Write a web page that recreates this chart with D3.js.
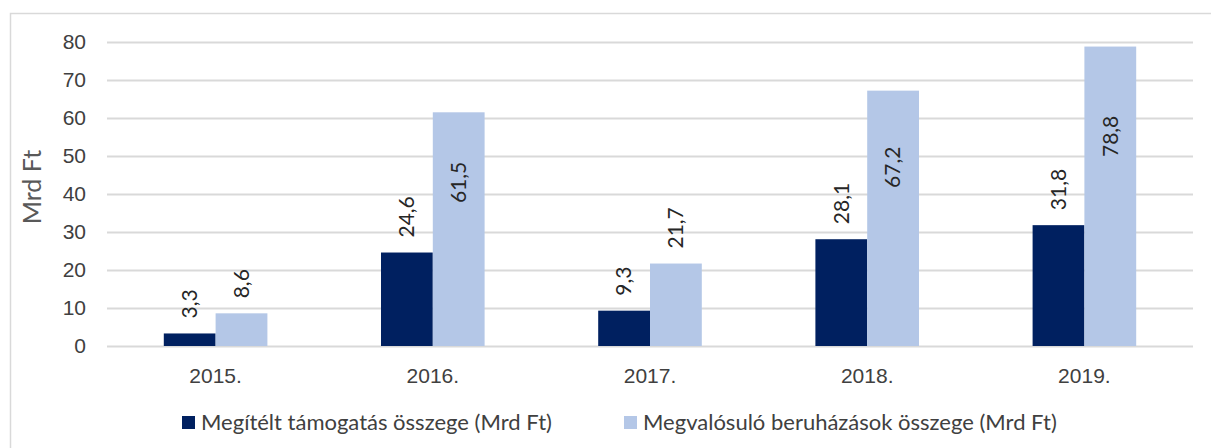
<!DOCTYPE html>
<html>
<head>
<meta charset="utf-8">
<script src="https://cdn.jsdelivr.net/npm/d3@7"></script>
<style>
  html, body { margin: 0; padding: 0; background: #fff; }
  svg { display: block; font-family: Lato, "Open Sans", sans-serif; }
</style>
</head>
<body>
<svg id="chart" width="1211" height="448"></svg>
<script>
// Years and the two annual totals (billion HUF)
const years = ["2015.", "2016.", "2017.", "2018.", "2019."];
const awarded = [3.3, 24.6, 9.3, 28.1, 31.8];
const realised = [8.6, 61.5, 21.7, 67.2, 78.8];
const seriesNames = ["Megítélt támogatás összege (Mrd Ft)", "Megvalósuló beruházások összege (Mrd Ft)"];
const yTicks = [0, 10, 20, 30, 40, 50, 60, 70, 80];
const colors = ["#002060", "#b4c7e7"];

const svg = d3.select("#chart");
const plot = { left: 107, right: 1193, top: 42, bottom: 346 };
const textColor = "#404040";

// outer frame
svg.append("rect")
  .attr("x", 10.5).attr("y", 13.5)
  .attr("width", 1215).attr("height", 450)
  .attr("fill", "none").attr("stroke", "#d9d9d9").attr("stroke-width", 1.5);

const y = d3.scaleLinear().domain([0, 80]).range([plot.bottom, plot.top]);
const x0 = d3.scaleBand().domain(years).range([plot.left, plot.right])
  .paddingInner(0.523).paddingOuter(0.2615);
const x1 = d3.scaleBand().domain([0, 1]).range([0, x0.bandwidth()]);

// horizontal gridlines + tick labels
const yAxis = d3.axisLeft(y).tickValues(yTicks).tickSize(-(plot.right - plot.left)).tickPadding(21)
  .tickFormat(d3.format("d"));
const gy = svg.append("g").attr("transform", `translate(${plot.left},0)`).call(yAxis);
gy.select(".domain").remove();
gy.selectAll(".tick line").attr("stroke", "#d9d9d9").attr("stroke-width", 2);
gy.selectAll(".tick text").attr("fill", textColor).style("font-size", "21px").attr("font-family", null);

// y-axis title
svg.append("text")
  .attr("transform", `translate(41,187) rotate(-90)`)
  .attr("text-anchor", "middle")
  .attr("fill", "#595959").style("font-size", "25px")
  .text("Mrd Ft");

// bars
const rows = years.map((yr, i) => ({ year: yr, values: [awarded[i], realised[i]] }));
const groups = svg.append("g").selectAll("g").data(rows).join("g")
  .attr("transform", d => `translate(${x0(d.year)},0)`);

groups.selectAll("rect").data(d => d.values.map((v, s) => ({ v, s }))).join("rect")
  .attr("x", d => x1(d.s))
  .attr("width", x1.bandwidth())
  .attr("y", d => y(d.v))
  .attr("height", d => y(0) - y(d.v))
  .attr("fill", d => colors[d.s]);

// value labels: tall bars carry the label inside, the rest above the bar
const fmt = v => d3.format(".1f")(v).replace(".", ",");
groups.selectAll("text.val").data(d => d.values.map((v, s) => ({ v, s }))).join("text")
  .attr("class", "val")
  .attr("transform", d => {
    const cx = x1(d.s) + x1.bandwidth() / 2;
    const cy = d.v > 50 ? y(d.v * 0.7) : y(d.v) - 15;
    return `translate(${cx},${cy}) rotate(-90)`;
  })
  .attr("text-anchor", d => d.v > 50 ? "middle" : "start")
  .attr("dy", "0.35em")
  .attr("fill", "#262626").style("font-size", "21px")
  .text(d => fmt(d.v));

// category axis labels
const xAxis = d3.axisBottom(x0).tickSize(0).tickPadding(22);
const gx = svg.append("g").attr("transform", `translate(0,${plot.bottom})`).call(xAxis);
gx.select(".domain").remove();
gx.selectAll(".tick text").attr("fill", textColor).style("font-size", "21px").attr("font-family", null);

// legend
const legendX = [182, 624];
const legend = svg.append("g").selectAll("g").data(seriesNames).join("g")
  .attr("transform", (d, i) => `translate(${legendX[i]},416)`);
legend.append("rect").attr("width", 13).attr("height", 13).attr("fill", (d, i) => colors[i]);
legend.append("text").attr("x", 19).attr("y", 14)
  .attr("fill", textColor).style("font-size", "22px")
  .text(d => d);
</script>
</body>
</html>
